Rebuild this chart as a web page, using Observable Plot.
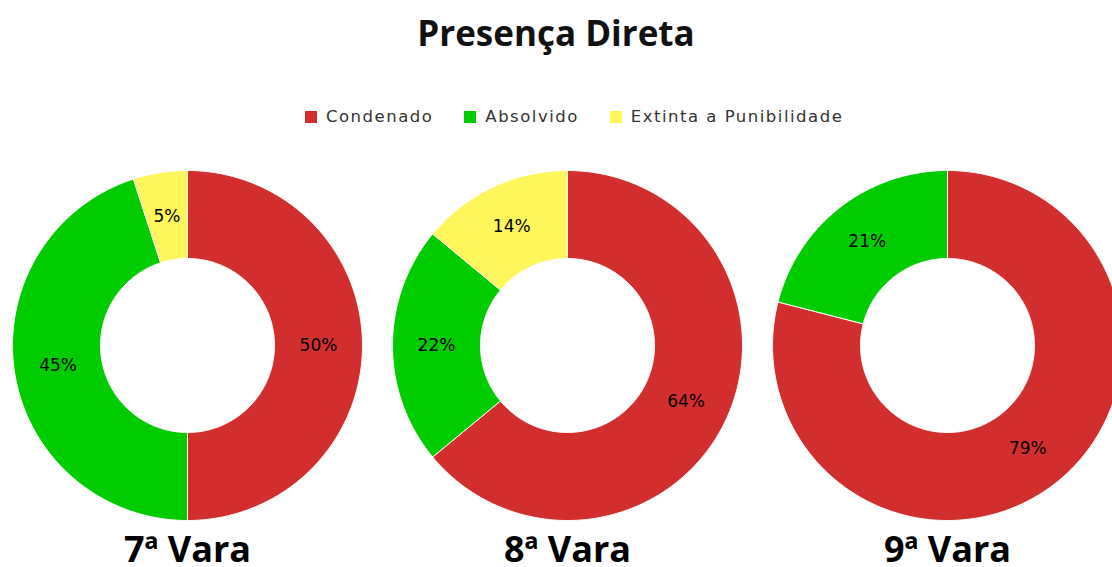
<!DOCTYPE html>
<html>
<head>
<meta charset="utf-8">
<script src="https://cdn.jsdelivr.net/npm/d3@7"></script>
<script src="https://cdn.jsdelivr.net/npm/@observablehq/plot@0.6"></script>
<style>
  html, body { margin: 0; padding: 0; background: #fff; width: 1112px; height: 567px; overflow: hidden; }
  #title { position: absolute; left: 0; width: 1112px; top: 15px; text-align: center;
           font-family: "Open Sans", sans-serif; font-weight: 700; font-size: 35px; line-height: 1; color: #111; }
  #legend { position: absolute; left: 0; width: 1112px; top: 100px; }
  #legend .lg-swatches { justify-content: flex-start; padding-left: 305px; }
  #legend .lg-swatch { margin-right: 31px !important; }
  #legend .lg-swatch > svg { margin-right: 9px !important; }
  #chart { position: absolute; left: 0; top: 150px; }
</style>
</head>
<body>
<div id="title">Presença Direta</div>
<div id="legend"></div>
<div id="chart"></div>
<script>
// ---- data ----
const varas = ["7ª Vara", "8ª Vara", "9ª Vara"];
const categorias = ["Condenado", "Absolvido", "Extinta a Punibilidade"];
const condenado = [50, 64, 79];
const absolvido = [45, 22, 21];
const extinta = [5, 14, 0];
const cores = ["#D32E2E", "#00CC00", "#FEF65B"];

// ---- build wedge polygons (unit = px, radii in px) ----
const R_OUT = 175, R_IN = 87;
const wedges = [];
const labels = [];
varas.forEach((vara, i) => {
  const vals = [condenado[i], absolvido[i], extinta[i]];
  const total = d3.sum(vals);
  let acc = 0;
  categorias.forEach((cat, j) => {
    const v = vals[j];
    if (!v) return;
    const a0 = acc / total * 2 * Math.PI;
    acc += v;
    const a1 = acc / total * 2 * Math.PI;
    const n = Math.max(2, Math.ceil((a1 - a0) / (Math.PI / 180)));
    const key = vara + "|" + cat;
    const pts = [];
    for (let k = 0; k <= n; k++) {
      const a = a0 + (a1 - a0) * k / n;
      pts.push({vara, cat, key, x: R_OUT * Math.sin(a), y: R_OUT * Math.cos(a)});
    }
    for (let k = n; k >= 0; k--) {
      const a = a0 + (a1 - a0) * k / n;
      pts.push({vara, cat, key, x: R_IN * Math.sin(a), y: R_IN * Math.cos(a)});
    }
    pts.push({...pts[0]});
    wedges.push(...pts);
    const am = (a0 + a1) / 2, rm = (R_OUT + R_IN) / 2;
    labels.push({vara, cat, x: rm * Math.sin(am), y: rm * Math.cos(am), text: v + "%"});
  });
});

const color = {domain: categorias, range: cores};

const chart = Plot.plot({
  width: 1112,
  height: 417,
  marginLeft: 0,
  marginRight: 0,
  marginTop: 0,
  marginBottom: 0,
  facet: {marginTop: 0, marginBottom: 0, marginLeft: 0, marginRight: 0},
  fx: {domain: varas, range: [-3, 1137], padding: 0, axis: null},
  x: {domain: [-190, 190], axis: null},
  y: {domain: [-222, 195], axis: null},
  color,
  marks: [
    Plot.line(wedges, {fx: "vara", x: "x", y: "y", z: "key", fill: "cat", stroke: "white", strokeWidth: 1, curve: "linear"}),
    Plot.text(labels, {fx: "vara", x: "x", y: "y", text: "text", fill: "#000", fontSize: 17, fontFamily: "DejaVu Sans", style: "letter-spacing:1px"}),
    Plot.text(varas, {fx: d => d, text: d => d, frameAnchor: "bottom", dy: -6, fontSize: 36, fontWeight: "bold", fontFamily: "Open Sans", fill: "#000"})
  ]
});
document.getElementById("chart").appendChild(chart);

const legend = Plot.legend({
  color,
  swatchSize: 12,
  className: "lg",
  style: {fontFamily: "DejaVu Sans", fontSize: "16.5px", letterSpacing: "1.5px", color: "#333"}
});
document.getElementById("legend").appendChild(legend);
</script>
</body>
</html>
